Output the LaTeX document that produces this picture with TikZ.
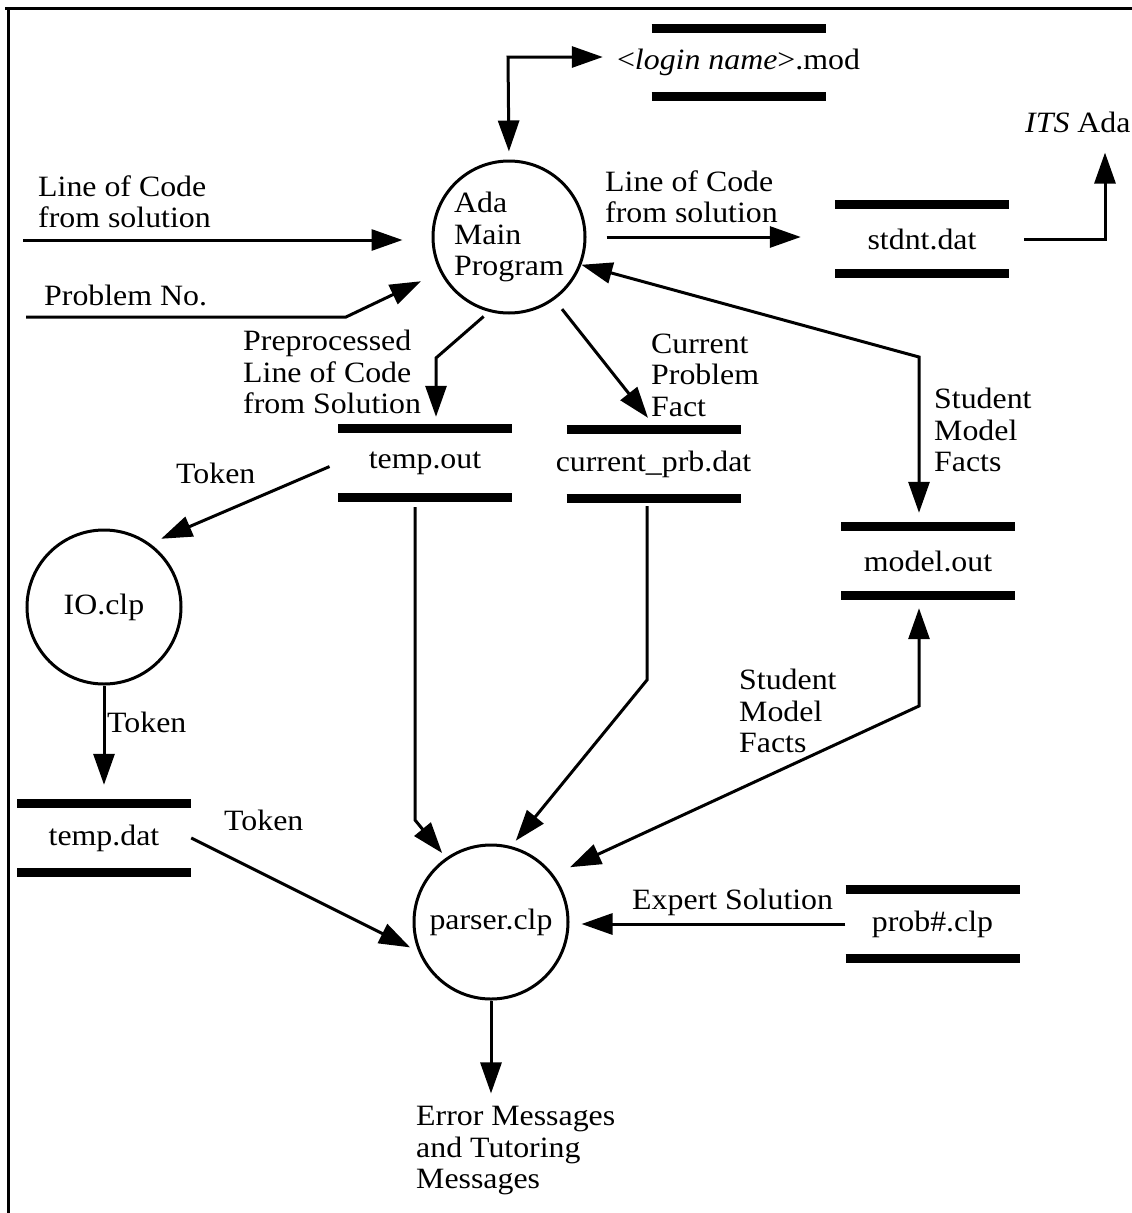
\documentclass[tikz,border=0pt]{standalone}
\usepackage{fontspec}
\setmainfont{Liberation Serif}[FakeStretch=1.08]
\usetikzlibrary{arrows.meta,calc}
\begin{document}
\begin{tikzpicture}[x=1pt,y=-1pt,
  font=\fontsize{29.5}{31.5}\selectfont,
  lbl/.style={align=left, inner sep=0pt, anchor=west},
  proc/.style={circle, draw, line width=3pt, minimum size=152pt, inner sep=0pt, align=left},
  store/.style={minimum width=174pt, minimum height=68pt, inner sep=0pt},
  bar/.style={line width=9pt},
  arr/.style={line width=3pt, -{Triangle[length=31pt,width=21pt]}},
  dbl/.style={line width=3pt, {Triangle[length=31pt,width=21pt]}-{Triangle[length=31pt,width=21pt]}}
]
\useasboundingbox (0,0) rectangle (1132,1213);
% frame
\draw[line width=3pt] (5,8) -- (1132,8);
\draw[line width=3pt] (8,8) -- (8,1213);

% processes
\node[proc] (ada) at (509,237) {Ada\\Main\\Program};
\node[proc, minimum size=154pt] (io) at (104,607) {IO.clp};
\node[proc, minimum size=154pt] (parser) at (491,922) {parser.clp};

% stores
\node[store] (mod) at (738.5,62.5) {\textless\textit{login name}\textgreater.mod};
\node[store] (stdnt) at (922,239) {stdnt.dat};
\node[store] (tempout) at (425,463) {temp.out};
\node[store] (curprb) at (653.5,464) {current\_prb.dat};
\node[store] (modelout) at (928,561) {model.out};
\node[store] (tempdat) at (104,838) {temp.dat};
\node[store] (prob) at (932.5,924) {prob\#.clp};
\foreach \n in {mod,stdnt,tempout,curprb,modelout,tempdat,prob}{
  \draw[bar] ([xshift=-87pt]\n.north) -- ([xshift=87pt]\n.north);
  \draw[bar] ([xshift=-87pt]\n.south) -- ([xshift=87pt]\n.south);
}

% labels
\node[lbl] (l1) at (38,202) {Line of Code\\from solution};
\node[lbl] (l2) at (44,295) {Problem No.};
\node[lbl] (l3) at (605,197) {Line of Code\\from solution};
\node[lbl] (its) at (1025,122) {\textit{ITS} Ada};
\node[lbl] (l4) at (243,372) {Preprocessed\\Line of Code\\from Solution};
\node[lbl] (l5) at (651,375) {Current\\Problem\\Fact};
\node[lbl] (l6) at (934,430) {Student\\Model\\Facts};
\node[lbl] (l7) at (176,473) {Token};
\node[lbl] (l8) at (107,722) {Token};
\node[lbl] (l9) at (224,820) {Token};
\node[lbl] (l10) at (739,711) {Student\\Model\\Facts};
\node[lbl] (l11) at (632,902) {Expert Solution};
\node[lbl] (errs) at (416,1151) {Error Messages\\and Tutoring\\Messages};

% free ends and bends
\coordinate (in1) at (23,240);
\coordinate (in2) at (26,317);
\coordinate (p2bend) at (346,317);
\coordinate (modbend) at (508,57);
\coordinate (mbend) at (919,357);
\coordinate (tbend) at (436,358);
\coordinate (pbend1) at (415,820);
\coordinate (cbend) at (647,680);
\coordinate (sbend) at (919,706);

% connectors
\draw[arr, shorten >=29pt] (in1) -- (in1 -| ada.west);
\draw[arr, shorten >=21pt] (in2) -- (p2bend) -- (ada.207);
\draw[arr, shorten <=20pt, shorten >=34pt] (ada.east) -- (ada.east -| stdnt.west);
\draw[arr, shorten <=15pt, shorten >=20pt] (stdnt.east) -| ([xshift=80pt]its.south west);
\draw[dbl, shorten <=8pt] (ada.north) -- (modbend) -- ([xshift=-14pt,yshift=5.5pt]mod.west);
\draw[dbl, shorten >=14pt] (ada.-21) -- (mbend) -- (mbend |- modelout.north);
\draw[arr, shorten <=7pt, shorten >=12pt] (ada.255) -- (tbend) -- (tbend |- tempout.north);
\draw[arr, shorten <=12pt] (ada.-54) -- ([xshift=-5.5pt,yshift=12pt]curprb.north);
\draw[arr, shorten <=9pt, shorten >=12pt] (tempout.west) -- (io.54);
\draw[arr, shorten >=19pt] (io.south) -- (io.south |- tempdat.north);
\draw[arr, shorten >=9pt] (tempdat.east) -- (parser.202);
\draw[arr, shorten >=6pt] ([xshift=-10pt,yshift=-10pt]tempout.south) -- (pbend1) -- (parser.125);
\draw[arr, shorten >=7pt] ([xshift=-6.5pt,yshift=-8pt]curprb.south) -- (cbend) -- (parser.75);
\draw[dbl, shorten <=18pt, shorten >=13pt] (parser.37) -- (sbend) -- (sbend |- modelout.south);
\draw[arr, shorten >=12pt] (prob.west) -- (prob.west -| parser.east);
\draw[arr, shorten >=13pt] (parser.south) -- (parser.south |- errs.north);
\end{tikzpicture}
\end{document}
